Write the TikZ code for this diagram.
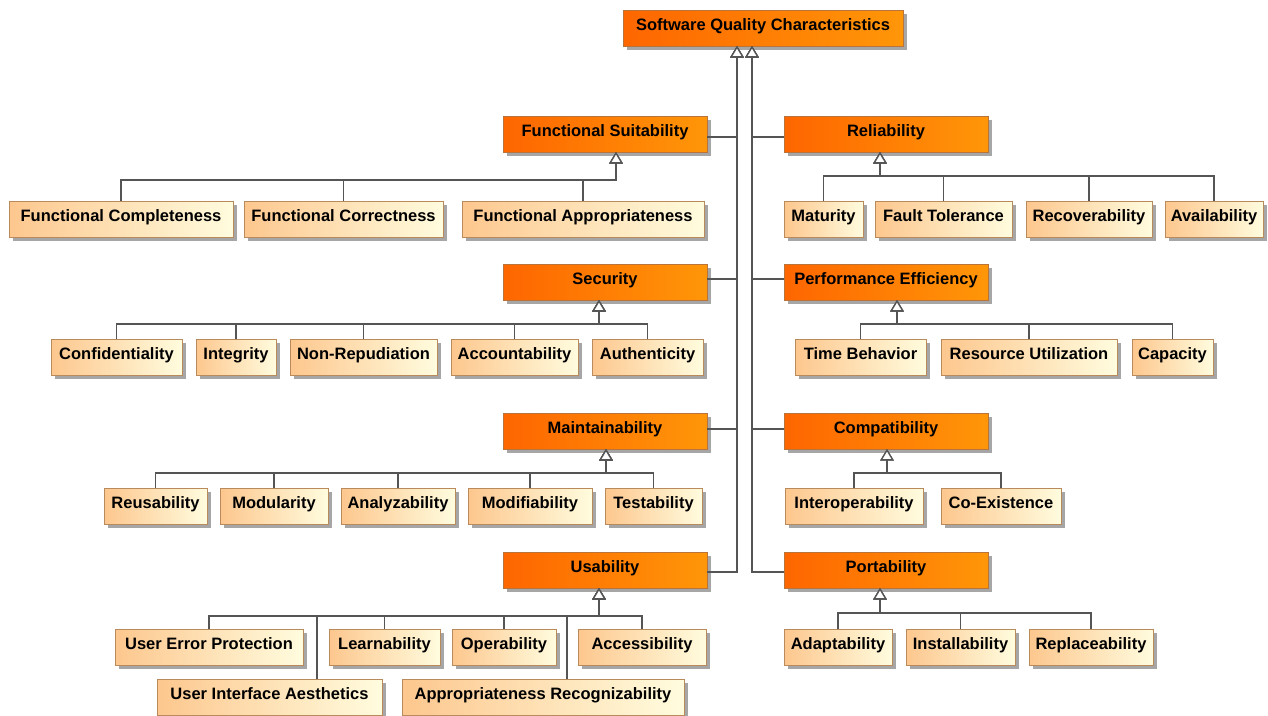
\documentclass[tikz,border=0pt]{standalone}
\usepackage{fontspec}
\setmainfont{Liberation Sans}
\usetikzlibrary{arrows.meta,shadows}
\definecolor{catL}{HTML}{FE6600}
\definecolor{catR}{HTML}{FF9608}
\definecolor{catB}{HTML}{B8743A}
\definecolor{subL}{HTML}{FDC78E}
\definecolor{subR}{HTML}{FFFCDE}
\definecolor{subB}{HTML}{B88A5C}
\definecolor{wire}{HTML}{555555}
\begin{document}
\begin{tikzpicture}[x=1pt,y=-1pt,
  box/.style={draw, line width=0.9pt, anchor=north west, outer sep=0pt,
    inner xsep=0pt, inner ysep=0pt, minimum height=36pt,
    text height=20pt, text depth=16pt,
    font=\fontsize{16.5}{19}\selectfont\bfseries,
    drop shadow={shadow xshift=4pt, shadow yshift=-4pt, fill=black!35, opacity=1}},
  cat/.style={box, minimum width=#1, draw=catB, left color=catL, right color=catR},
  sub/.style={box, minimum width=#1, draw=subB, left color=subL, right color=subR},
  gen/.style={draw=wire, line width=1.3pt,
    -{Triangle[open, fill=white, length=11.5pt, width=13.5pt, line width=1.3pt]}},
]
\useasboundingbox (0,0) rectangle (1268,715);

% root
\node[cat=280pt] (top) at (623,10) {Software Quality Characteristics};

% characteristics
\node[cat=204pt] (fs)    at (503,116) {Functional Suitability};
\node[cat=204pt] (sec)   at (503,264) {Security};
\node[cat=204pt] (mai)   at (503,413) {Maintainability};
\node[cat=204pt] (usa)   at (503,552) {Usability};
\node[cat=204pt] (rel)   at (784,116) {Reliability};
\node[cat=204pt] (perf)  at (784,264) {Performance Efficiency};
\node[cat=204pt] (com)   at (784,413) {Compatibility};
\node[cat=204pt] (por)   at (784,552) {Portability};

% sub-characteristics
\node[sub=224pt] (fcomp) at (9,201)   {Functional Completeness};
\node[sub=199pt] (fcorr) at (244,201) {Functional Correctness};
\node[sub=242pt] (fapp)  at (462,201) {Functional Appropriateness};
\node[sub=79pt]  (mat)   at (784,201) {Maturity};
\node[sub=137pt] (ft)    at (875,201) {Fault Tolerance};
\node[sub=126pt] (rec)   at (1026,201) {Recoverability};
\node[sub=98pt]  (ava)   at (1165,201) {Availability};

\node[sub=131pt] (conf)  at (51,339)  {Confidentiality};
\node[sub=80pt]  (integ) at (196,339) {Integrity};
\node[sub=147pt] (nrep)  at (290,339) {Non-Repudiation};
\node[sub=127pt] (acc)   at (451,339) {Accountability};
\node[sub=111pt] (auth)  at (592,339) {Authenticity};
\node[sub=131pt] (tb)    at (795,339) {Time Behavior};
\node[sub=176pt] (ru)    at (941,339) {Resource Utilization};
\node[sub=81pt]  (cap)   at (1132,339) {Capacity};

\node[sub=103pt] (reu)   at (104,488) {Reusability};
\node[sub=108pt] (modu)  at (220,488) {Modularity};
\node[sub=114pt] (ana)   at (341,488) {Analyzability};
\node[sub=124pt] (modi)  at (468,488) {Modifiability};
\node[sub=97pt]  (tes)   at (605,488) {Testability};
\node[sub=138pt] (int)   at (785,488) {Interoperability};
\node[sub=120pt] (coex)  at (941,488) {Co-Existence};

\node[sub=188pt] (uep)   at (115,629) {User Error Protection};
\node[sub=111pt] (lea)   at (329,629) {Learnability};
\node[sub=104pt] (ope)   at (452,629) {Operability};
\node[sub=128pt] (acs)   at (578,629) {Accessibility};
\node[sub=225pt] (uia)   at (157,679) {User Interface Aesthetics};
\node[sub=282pt] (arec)  at (402,679) {Appropriateness Recognizability};
\node[sub=108pt] (ada)   at (784,629) {Adaptability};
\node[sub=109pt] (ins)   at (906,629) {Installability};
\node[sub=124pt] (rep)   at (1029,629) {Replaceability};

% characteristics -> root (two trunks)
\draw[gen] ([yshift=-21pt]fs.north east)  -| ([xshift=-26pt]top.south);
\draw[gen] ([yshift=-15pt]sec.north east) -| ([xshift=-26pt]top.south);
\draw[gen] ([yshift=-16pt]mai.north east) -| ([xshift=-26pt]top.south);
\draw[gen] ([yshift=-20pt]usa.north east) -| ([xshift=-26pt]top.south);
\draw[gen] ([yshift=-21pt]rel.north west)  -| ([xshift=-11pt]top.south);
\draw[gen] ([yshift=-15pt]perf.north west) -| ([xshift=-11pt]top.south);
\draw[gen] ([yshift=-16pt]com.north west)  -| ([xshift=-11pt]top.south);
\draw[gen] ([yshift=-20pt]por.north west)  -| ([xshift=-11pt]top.south);

% sub-characteristics -> characteristics
\foreach \c in {fcomp,fcorr,fapp}
  \draw[gen] (\c.north) |- ([xshift=11pt,yshift=-28pt]fs.south) -- ([xshift=11pt]fs.south);
\foreach \c in {mat,ft,rec,ava}
  \draw[gen] (\c.north) |- ([xshift=-6pt,yshift=-24pt]rel.south) -- ([xshift=-6pt]rel.south);
\foreach \c in {conf,integ,nrep,acc,auth}
  \draw[gen] (\c.north) |- ([xshift=-6pt,yshift=-24pt]sec.south) -- ([xshift=-6pt]sec.south);
\foreach \c in {tb,ru,cap}
  \draw[gen] (\c.north) |- ([xshift=11pt,yshift=-24pt]perf.south) -- ([xshift=11pt]perf.south);
\foreach \c in {reu,modu,ana,modi,tes}
  \draw[gen] (\c.north) |- ([xshift=1pt,yshift=-24pt]mai.south) -- ([xshift=1pt]mai.south);
\foreach \c in {int,coex}
  \draw[gen] (\c.north) |- ([xshift=1pt,yshift=-24pt]com.south) -- ([xshift=1pt]com.south);
\foreach \c in {uep,lea,ope,acs}
  \draw[gen] (\c.north) |- ([xshift=-6pt,yshift=-28pt]usa.south) -- ([xshift=-6pt]usa.south);
\draw[gen] ([xshift=47.5pt]uia.north) |- ([xshift=-6pt,yshift=-28pt]usa.south) -- ([xshift=-6pt]usa.south);
\draw[gen] ([xshift=24pt]arec.north) |- ([xshift=-6pt,yshift=-28pt]usa.south) -- ([xshift=-6pt]usa.south);
\foreach \c in {ada,ins,rep}
  \draw[gen] (\c.north) |- ([xshift=-6pt,yshift=-25pt]por.south) -- ([xshift=-6pt]por.south);
\end{tikzpicture}
\end{document}
